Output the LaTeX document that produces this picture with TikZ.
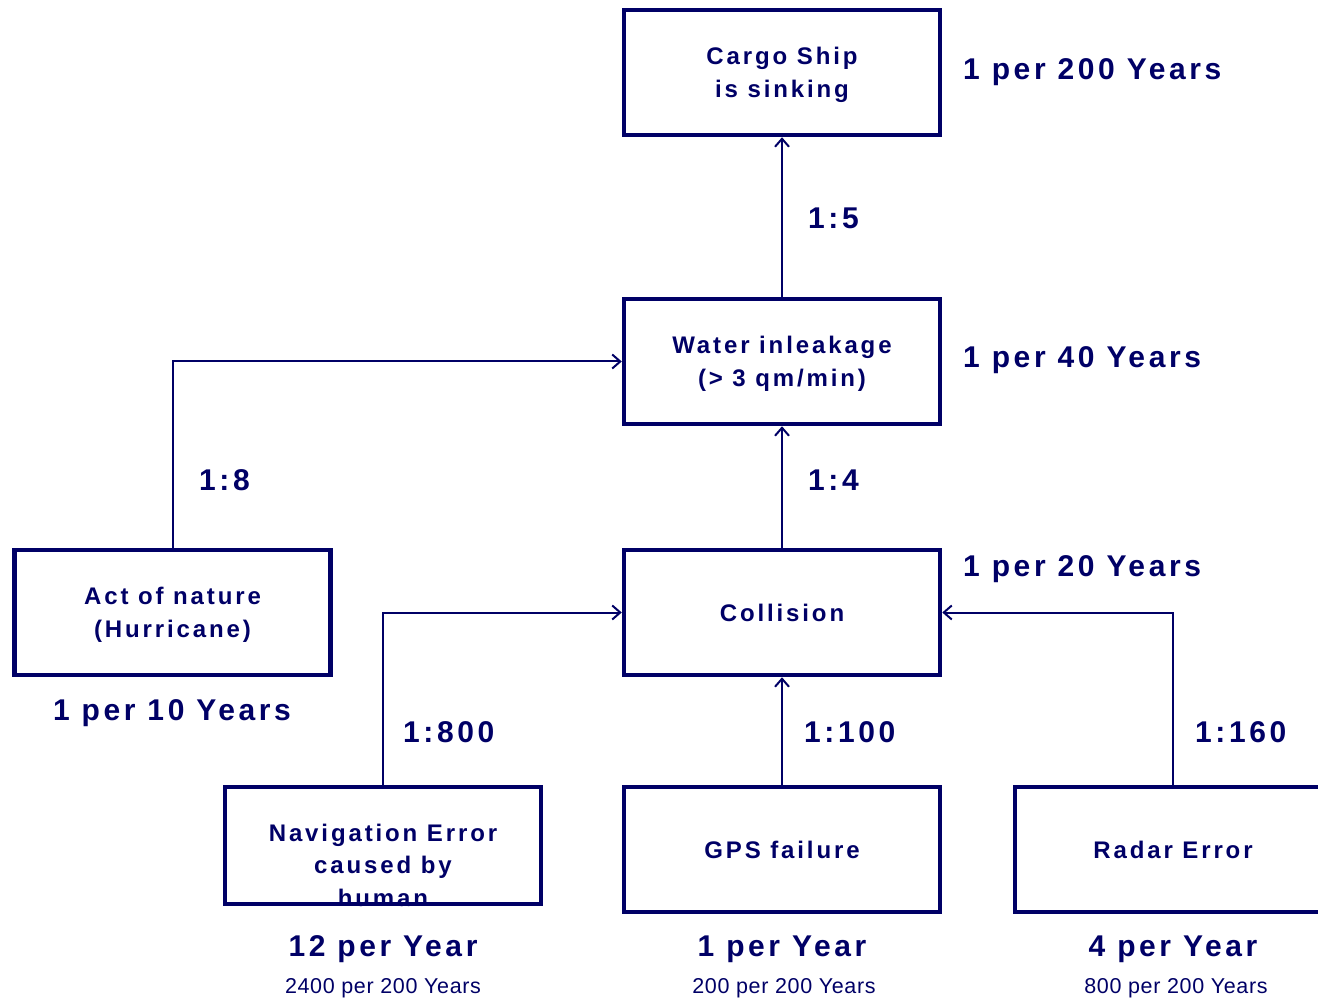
\documentclass[tikz,border=0pt]{standalone}
\usepackage{fontspec}
\usetikzlibrary{arrows.meta}
\newfontfamily\lspbig[LetterSpace=12]{Liberation Sans}
\newfontfamily\lspsmall[LetterSpace=3]{Liberation Sans}
\definecolor{navy}{RGB}{0,0,102}
\begin{document}
\begin{tikzpicture}[x=1pt,y=-1pt,
  every node/.style={text=navy},
  box/.style={draw=navy, line width=4.5pt, minimum width=316pt, minimum height=125pt,
    inner sep=0pt, align=center, text depth=0pt, font=\lspbig\bfseries\fontsize{24}{32.5}\selectfont},
  boxtext/.style={inner sep=0pt, align=center, font=\lspbig\bfseries\fontsize{24}{32.5}\selectfont},
  big/.style={inner sep=0pt, anchor=base, font=\lspbig\bfseries\fontsize{30}{34}\selectfont},
  bigw/.style={big, anchor=base west},
  small/.style={inner sep=0pt, anchor=base, font=\lspsmall\fontsize{21.5}{25}\selectfont},
  conn/.style={draw=navy, line width=2pt, -{Straight Barb[length=8pt,width=14pt,line width=2pt]}}
]
\useasboundingbox (0,0) rectangle (1318,1000);
\clip (0,0) rectangle (1318,1000);

% boxes
\node[box] (cargo) at (782,72.5) {Cargo Ship\\is sinking};
\node[box] (water) at (782,361.5) {Water inleakage\\(> 3 qm/min)};
\node[box] (coll) at (782,612.5) {Collision};
\node[box] (act) at (172.5,612.5) {Act of nature\\(Hurricane)};
\node[box, minimum height=117pt] (nav) at (383,845.5) {};
\node[boxtext] (navtext) at (383,865) {Navigation Error\\caused by\\human};
\node[box] (gps) at (782,849.5) {GPS failure};
\node[box] (radar) at (1173,849.5) {Radar Error};

% connectors
\draw[conn] (water.north) -- (cargo.south);
\draw[conn] (coll.north) -- (water.south);
\draw[conn] (act.north) |- (water.west);
\draw[conn] (nav.north) |- (coll.west);
\draw[conn] (gps.north) -- (coll.south);
\draw[conn] (radar.north) |- (coll.east);

% labels
\node[bigw] (f1) at (963,80) {1 per 200 Years};
\node[bigw] (f2) at (963,368) {1 per 40 Years};
\node[bigw] (f3) at (963,576) {1 per 20 Years};
\node[big] (f4) at (172,720) {1 per 10 Years};
\node[bigw] (r1) at (808,229) {1:5};
\node[bigw] (r2) at (199,490) {1:8};
\node[bigw] (r3) at (808,490) {1:4};
\node[bigw] (r4) at (403,742) {1:800};
\node[bigw] (r5) at (804,742) {1:100};
\node[bigw] (r6) at (1195,742) {1:160};
\node[big] (y1) at (383,956) {12 per Year};
\node[big] (y2) at (782,956) {1 per Year};
\node[big] (y3) at (1173,956) {4 per Year};
\node[small] (s1) at (383,993) {2400 per 200 Years};
\node[small] (s2) at (784,993) {200 per 200 Years};
\node[small] (s3) at (1176,993) {800 per 200 Years};
\end{tikzpicture}
\end{document}
